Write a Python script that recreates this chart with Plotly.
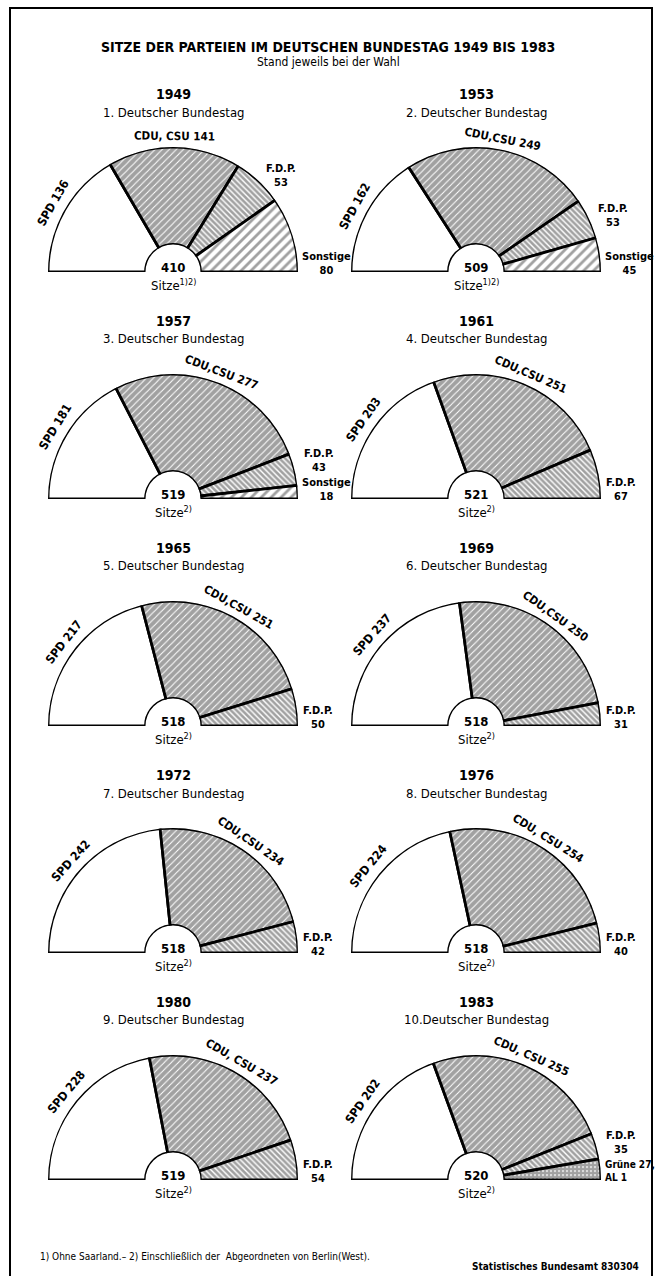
import math
import plotly.graph_objects as go

W, H = 656, 1276

# ---------------- data ----------------
years = [1949, 1953, 1957, 1961, 1965, 1969, 1972, 1976, 1980, 1983]
bundestag = ["1. Deutscher Bundestag", "2. Deutscher Bundestag", "3. Deutscher Bundestag",
             "4. Deutscher Bundestag", "5. Deutscher Bundestag", "6. Deutscher Bundestag",
             "7. Deutscher Bundestag", "8. Deutscher Bundestag", "9. Deutscher Bundestag",
             "10.Deutscher Bundestag"]
spd = [136, 162, 181, 203, 217, 237, 242, 224, 228, 202]
cdu = [141, 249, 277, 251, 251, 250, 234, 254, 237, 255]
fdp = [53, 53, 43, 67, 50, 31, 42, 40, 54, 35]
sonstige = [80, 45, 18, 0, 0, 0, 0, 0, 0, 0]
gruene = [0, 0, 0, 0, 0, 0, 0, 0, 0, 28]
cdu_names = ["CDU, CSU", "CDU,CSU", "CDU,CSU", "CDU,CSU", "CDU,CSU",
             "CDU,CSU", "CDU,CSU", "CDU, CSU", "CDU, CSU", "CDU, CSU"]
notes = ["1)2)", "1)2)", "2)", "2)", "2)", "2)", "2)", "2)", "2)", "2)"]
gruene_label = "Grüne 27,<br>AL 1"

TITLE = "SITZE DER PARTEIEN IM DEUTSCHEN BUNDESTAG 1949 BIS 1983"
SUBTITLE = "Stand jeweils bei der Wahl"
FOOTNOTE = "1) Ohne Saarland.– 2) Einschließlich der  Abgeordneten von Berlin(West)."
SOURCE = "Statistisches Bundesamt 830304"

# ---------------- layout geometry ----------------
FONT = "DejaVu Sans Condensed, Liberation Sans Narrow, Arial Narrow, Liberation Sans, sans-serif"
col_cx = [173, 476]
row_cy = [272, 499, 726, 953, 1180]
R = 125
HOLE = 0.22


def px(x):
    return x / W


def py(y):
    return 1 - y / H


def polar_pt(cx, cy, r, phi):
    a = math.radians(phi)
    return cx + r * math.cos(a), cy - r * math.sin(a)


fig = go.Figure()
ann = []
layout_polars = {}

for i, yr in enumerate(years):
    cx = col_cx[i % 2]
    cy = row_cy[i // 2]
    vals = [spd[i], cdu[i], fdp[i]]
    shapes_p = ["", "/", "\\"]
    sizes_p = [6, 5, 4]
    sol_p = [0.3, 0.8, 0.65]
    last_text = None
    last_size = 11
    if sonstige[i] > 0:
        vals.append(sonstige[i]); shapes_p.append("/"); sizes_p.append(7); sol_p.append(0.4)
        last_text = "Sonstige<br>%d" % sonstige[i]
    if gruene[i] > 0:
        vals.append(gruene[i]); shapes_p.append("."); sizes_p.append(4); sol_p.append(0.8)
        last_text = gruene_label
        last_size = 10
    total = sum(vals)
    n = len(vals)

    # angular positions from the seat counts (0..180 deg, from the left)
    cum = [0]
    for v in vals:
        cum.append(cum[-1] + v)
    start = [180 * c / total for c in cum]
    widths = [start[k + 1] - start[k] for k in range(n)]
    thetas = [(start[k] + start[k + 1]) / 2 for k in range(n)]

    pname = "polar" if i == 0 else "polar%d" % (i + 1)
    fig.add_trace(go.Barpolar(
        r=[1] * n, theta=thetas, width=widths, base=0,
        subplot=pname, hoverinfo="skip", showlegend=False,
        marker=dict(
            color=["white"] * n,
            line=dict(color="black", width=2.8),
            pattern=dict(shape=shapes_p, size=sizes_p, solidity=sol_p,
                         fgcolor="black", bgcolor="white"),
        ),
    ))
    layout_polars[pname] = dict(
        domain=dict(x=[px(cx - R), px(cx + R)], y=[py(cy), py(cy - R)]),
        sector=[0, 180], hole=HOLE, bgcolor="rgba(0,0,0,0)",
        radialaxis=dict(range=[0, 1], visible=False, showgrid=False),
        angularaxis=dict(rotation=180, direction="clockwise", visible=False,
                         showgrid=False, thetaunit="degrees"),
    )

    mid = [180 - t for t in thetas]   # screen angle (counter-clockwise from east)

    # headings
    ann.append(dict(x=px(cx), y=py(cy - 178), text="<b>%d</b>" % yr, font=dict(size=14)))
    ann.append(dict(x=px(cx), y=py(cy - 160), text=bundestag[i], font=dict(size=13)))
    # centre text
    ann.append(dict(x=px(cx), y=py(cy - 5), text="<b>%d</b>" % total, font=dict(size=13)))
    ann.append(dict(x=px(cx), y=py(cy + 13), text="Sitze<sup>%s</sup>" % notes[i], font=dict(size=13)))
    # SPD label
    x, y = polar_pt(cx, cy, R + 13, mid[0])
    ann.append(dict(x=px(x), y=py(y), text="<b>SPD %d</b>" % spd[i], textangle=90 - mid[0],
                    font=dict(size=12)))
    # CDU label
    x, y = polar_pt(cx, cy, R + 11, mid[1])
    ann.append(dict(x=px(x), y=py(y), text="<b>%s %d</b>" % (cdu_names[i], cdu[i]),
                    textangle=90 - mid[1], font=dict(size=11.5)))
    # right-hand labels
    last_y = cy - 9
    fdp_text = "<b>F.D.P.<br>%d</b>" % fdp[i]
    if last_text is None:
        ann.append(dict(x=px(cx + R + 3), y=py(last_y), text=fdp_text, xanchor="left",
                        align="center", font=dict(size=11)))
    else:
        x, y = polar_pt(cx, cy, R + 8, mid[2])
        y = min(y, last_y - 29)
        ann.append(dict(x=px(x), y=py(y), text=fdp_text, xanchor="left", align="center",
                        font=dict(size=11)))
        ann.append(dict(x=px(cx + R + 2), y=py(last_y), text="<b>%s</b>" % last_text,
                        xanchor="left", align="left" if gruene[i] > 0 else "center",
                        font=dict(size=last_size)))

ann.append(dict(x=0.5, y=py(47), text="<b>%s</b>" % TITLE, font=dict(size=14)))
ann.append(dict(x=0.5, y=py(62), text=SUBTITLE, font=dict(size=12)))
ann.append(dict(x=px(38), y=py(1256), text=FOOTNOTE, xanchor="left", font=dict(size=10)))
ann.append(dict(x=px(641), y=py(1266), text="<b>%s</b>" % SOURCE, xanchor="right", font=dict(size=10)))

for a in ann:
    a.setdefault("xref", "paper")
    a.setdefault("yref", "paper")
    a.setdefault("showarrow", False)
    a.setdefault("xanchor", "center")
    a.setdefault("yanchor", "middle")
    a["font"].setdefault("color", "black")
    a["font"].setdefault("family", FONT)

fig.update_layout(
    width=W, height=H,
    margin=dict(l=0, r=0, t=0, b=0),
    paper_bgcolor="white", plot_bgcolor="white",
    showlegend=False,
    annotations=ann,
    shapes=[dict(type="rect", xref="paper", yref="paper",
                 x0=px(10), x1=px(652), y0=py(1290), y1=py(8),
                 line=dict(color="black", width=2), fillcolor="rgba(0,0,0,0)")],
    **layout_polars,
)

fig.write_html("out.html", config={"displayModeBar": False},
               post_script="document.body.style.margin='0px';")
